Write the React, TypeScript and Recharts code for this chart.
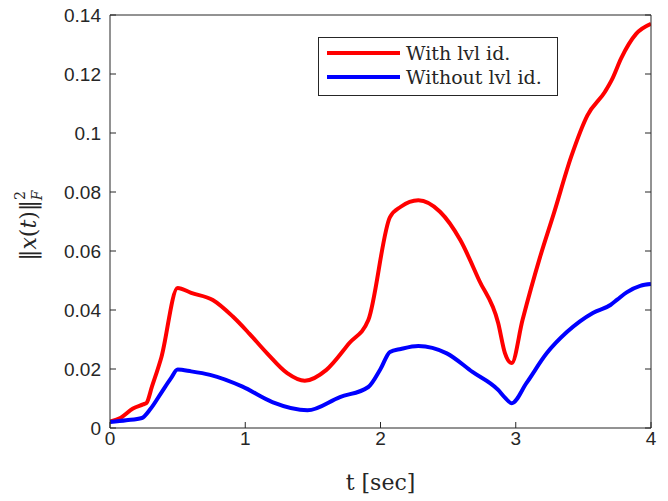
import React from 'react';
import { LineChart, Line, XAxis, YAxis } from 'recharts';

const redT = [0, 0.08, 0.17, 0.245, 0.27, 0.31, 0.38, 0.5, 0.6, 0.76, 0.91, 1.03, 1.16, 1.31, 1.44, 1.6, 1.77, 1.91, 2.07, 2.15, 2.28, 2.44, 2.59, 2.73, 2.87, 2.92, 2.97, 3.05, 3.18, 3.28, 3.41, 3.53, 3.66, 3.71, 3.78, 3.89, 4.0];
const redV = [0.0022, 0.0035, 0.0066, 0.008, 0.0085, 0.014, 0.024, 0.0475, 0.0458, 0.0434, 0.0377, 0.032, 0.0254, 0.0186, 0.016, 0.0197, 0.0288, 0.0366, 0.0715, 0.075, 0.0772, 0.0733, 0.0637, 0.05, 0.0356, 0.0254, 0.022, 0.0366, 0.058, 0.0725, 0.092, 0.106, 0.114, 0.118, 0.1254, 0.1336, 0.137];

const blueT = [0, 0.12, 0.236, 0.3, 0.38, 0.45, 0.5, 0.6, 0.74, 0.98, 1.2, 1.46, 1.7, 1.91, 2.0, 2.07, 2.15, 2.28, 2.49, 2.68, 2.87, 2.92, 2.97, 3.08, 3.23, 3.38, 3.57, 3.7, 3.75, 3.82, 3.92, 4.0];
const blueV = [0.002, 0.0026, 0.0034, 0.0065, 0.012, 0.0168, 0.0198, 0.0192, 0.018, 0.014, 0.0088, 0.006, 0.0105, 0.0139, 0.02, 0.0258, 0.0268, 0.0278, 0.0253, 0.019, 0.0129, 0.0103, 0.0084, 0.0153, 0.0254, 0.0326, 0.039, 0.0417, 0.0435, 0.046, 0.0482, 0.0488];

const xTicks = [0, 1, 2, 3, 4];
const yTicks = [0, 0.02, 0.04, 0.06, 0.08, 0.1, 0.12, 0.14];
const seriesNames = ['With lvl id.', 'Without lvl id.'];
const seriesColors = ['#ff0000', '#0000ff'];

const redData = redT.map((t, i) => ({ t, v: redV[i] }));
const blueData = blueT.map((t, i) => ({ t, v: blueV[i] }));

const AX = '#262626';
const tickStyle = { fill: AX, fontSize: 19, fontFamily: '"Liberation Sans", Arial, sans-serif' };
const SERIF = '"DejaVu Serif", "Liberation Serif", serif';

const YLabel = (props: any) => {
  const vb = props.viewBox || { x: 0, y: 0, width: 0, height: 0 };
  const cx = 36;
  const cy = vb.y + vb.height / 2 + 4;
  return (
    <text
      transform={`translate(${cx},${cy}) rotate(-90)`}
      textAnchor="middle"
      fill={AX}
      style={{ fontFamily: SERIF, fontSize: 22 }}
    >
      <tspan>‖</tspan>
      <tspan fontStyle="italic">x</tspan>
      <tspan>(</tspan>
      <tspan fontStyle="italic">t</tspan>
      <tspan>)‖</tspan>
      <tspan fontSize={14} dy={-11}>2</tspan>
      <tspan fontSize={14} fontStyle="italic" dx={-9} dy={17}>F</tspan>
    </text>
  );
};

const XLabel = (props: any) => {
  const vb = props.viewBox || { x: 0, y: 0, width: 0, height: 0 };
  return (
    <text
      x={vb.x + vb.width / 2}
      y={490}
      textAnchor="middle"
      fill={AX}
      style={{ fontFamily: SERIF, fontSize: 22 }}
    >
      t [sec]
    </text>
  );
};

const LegendBox = () => (
  <div
    style={{
      position: 'absolute',
      left: 318,
      top: 37,
      border: `1px solid ${AX}`,
      background: '#fff',
      width: 238,
      height: 57,
      fontFamily: SERIF,
      fontSize: 19,
      color: AX,
      whiteSpace: 'nowrap',
    }}
  >
    {seriesNames.map((n, i) => (
      <div key={n} style={{ display: 'flex', alignItems: 'center', height: 24, marginTop: i === 0 ? 3 : 0 }}>
        <div style={{ width: 73, height: 4, background: seriesColors[i], marginLeft: 8, marginRight: 6, flex: 'none' }} />
        <span>{n}</span>
      </div>
    ))}
  </div>
);

export default function App() {
  return (
    <div style={{ position: 'absolute', left: 0, top: 0, width: 668, height: 501, background: '#fff' }}>
      <LineChart width={668} height={501} margin={{ top: 0, right: 0, bottom: 0, left: 0 }}>
        <XAxis
          dataKey="t"
          type="number"
          domain={[0, 4]}
          ticks={xTicks}
          allowDataOverflow
          height={73}
          stroke={AX}
          tickSize={-6}
          tickMargin={10}
          tick={tickStyle}
          label={<XLabel />}
        />
        <XAxis
          xAxisId="top"
          orientation="top"
          type="number"
          domain={[0, 4]}
          ticks={xTicks}
          allowDataOverflow
          height={15}
          stroke={AX}
          tickSize={-6}
          tickFormatter={() => ''}
        />
        <YAxis
          type="number"
          domain={[0, 0.14]}
          ticks={yTicks}
          allowDataOverflow
          width={110}
          stroke={AX}
          tickSize={-6}
          tickMargin={15}
          tick={tickStyle}
          label={<YLabel />}
        />
        <YAxis
          yAxisId="right"
          orientation="right"
          type="number"
          domain={[0, 0.14]}
          ticks={yTicks}
          allowDataOverflow
          width={17}
          stroke={AX}
          tickSize={-6}
          tickFormatter={() => ''}
        />
        <Line data={redData} dataKey="v" name={seriesNames[0]} stroke={seriesColors[0]} strokeWidth={4} dot={false} type="monotone" isAnimationActive={false} />
        <Line data={blueData} dataKey="v" name={seriesNames[1]} stroke={seriesColors[1]} strokeWidth={4} dot={false} type="monotone" isAnimationActive={false} />
      </LineChart>
      <LegendBox />
    </div>
  );
}
